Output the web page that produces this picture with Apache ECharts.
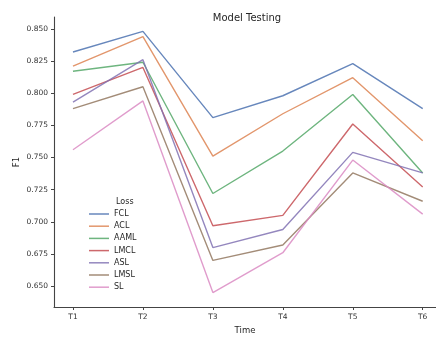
<!DOCTYPE html>
<html>
<head>
<meta charset="utf-8">
<script src="https://cdn.jsdelivr.net/npm/echarts@6/dist/echarts.min.js"></script>
<style>
  html, body { margin: 0; padding: 0; background: #fff; }
  #chart { width: 436px; height: 340px; }
</style>
</head>
<body>
<div id="chart"></div>
<script>
// time steps (x tick labels)
const times = ['T1', 'T2', 'T3', 'T4', 'T5', 'T6'];
const yTicks = [0.650, 0.675, 0.700, 0.725, 0.750, 0.775, 0.800, 0.825, 0.850];

// F1 per loss
const lossNames = ['FCL', 'ACL', 'AAML', 'LMCL', 'ASL', 'LMSL', 'SL'];
const FCL  = [0.832, 0.848, 0.781, 0.798, 0.823, 0.788];
const ACL  = [0.821, 0.844, 0.751, 0.784, 0.812, 0.763];
const AAML = [0.817, 0.824, 0.722, 0.755, 0.799, 0.738];
const LMCL = [0.799, 0.820, 0.697, 0.705, 0.776, 0.727];
const ASL  = [0.793, 0.826, 0.680, 0.694, 0.754, 0.738];
const LMSL = [0.788, 0.805, 0.670, 0.682, 0.738, 0.716];
const SL   = [0.756, 0.794, 0.645, 0.676, 0.748, 0.706];
const lossValues = [FCL, ACL, AAML, LMCL, ASL, LMSL, SL];

const palette = ['#4C72B0', '#DD8452', '#55A868', '#C44E52', '#8172B3', '#937860', '#DA8BC3'];
const xPos = times.map((t, i) => i + 1);

const chart = echarts.init(document.getElementById('chart'), null, { renderer: 'canvas' });

const font = 'DejaVu Sans';
chart.setOption({
  animation: false,
  color: palette,
  textStyle: { fontFamily: font },
  title: [
    {
      text: 'Model Testing', left: 242, top: 8, textAlign: 'center',
      textStyle: { fontSize: 10, fontWeight: 'normal', color: '#262626', fontFamily: font }
    },
    {
      text: 'Loss', left: 111, top: 193,
      textStyle: { fontSize: 8, fontWeight: 'normal', color: '#262626', fontFamily: font }
    }
  ],
  grid: { left: 54, right: 0, top: 17, bottom: 30 },
  legend: {
    orient: 'vertical', left: 84, top: 204,
    icon: 'rect', itemWidth: 20, itemHeight: 1.5, itemGap: 2.2,
    textStyle: { fontSize: 8, color: '#262626', fontFamily: font, lineHeight: 10 },
    itemStyle: { opacity: 0.85 },
    data: lossNames
  },
  xAxis: {
    type: 'value', min: 0.7286, max: 6.19,
    name: 'Time', nameLocation: 'middle', nameGap: 19,
    nameTextStyle: { fontSize: 8.5, color: '#262626' },
    splitLine: { show: false },
    axisLine: { lineStyle: { color: '#444', width: 1.1 } },
    axisTick: { customValues: xPos, length: 3, lineStyle: { color: '#444' } },
    axisLabel: {
      customValues: xPos, fontSize: 7.5, color: '#333', margin: 6,
      formatter: v => times[Math.round(v) - 1]
    }
  },
  yAxis: {
    type: 'value', min: 0.6338, max: 0.8592,
    name: 'F1', nameLocation: 'middle', nameGap: 33, nameRotate: 90,
    nameMoveOverlap: false,
    nameTextStyle: { fontSize: 8.5, color: '#262626' },
    splitLine: { show: false },
    axisLine: { show: true, lineStyle: { color: '#444', width: 1.1 } },
    axisTick: { show: true, customValues: yTicks, length: 3, lineStyle: { color: '#444' } },
    axisLabel: {
      customValues: yTicks, fontSize: 7.5, color: '#333', margin: 6,
      formatter: v => v.toFixed(3)
    }
  },
  series: lossNames.map((name, k) => ({
    name,
    type: 'line',
    symbol: 'none',
    data: lossValues[k].map((v, i) => [xPos[i], v]),
    lineStyle: { width: 1.4, opacity: 0.85 }
  }))
});
</script>
</body>
</html>
